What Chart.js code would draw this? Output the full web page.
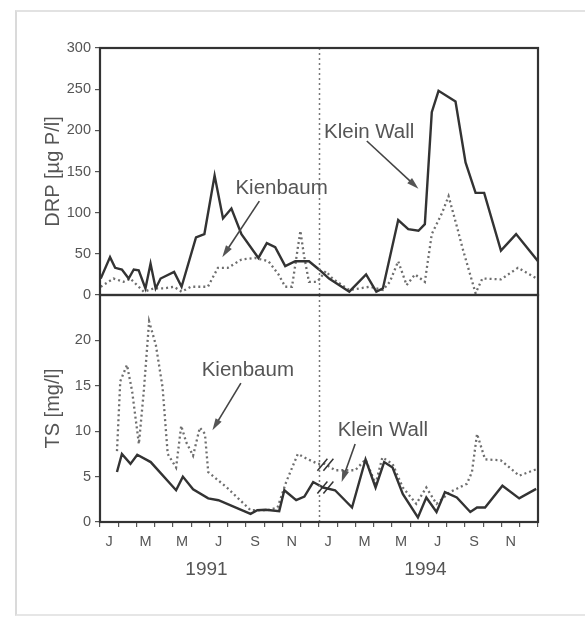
<!DOCTYPE html>
<html>
<head>
<meta charset="utf-8">
<script src="https://cdn.jsdelivr.net/npm/chart.js@4.4.0/dist/chart.umd.min.js"></script>
<style>
  body { margin: 0; background: #fff; width: 585px; height: 621px; position: relative; overflow: hidden; }
  #frame { position: absolute; left: 15px; top: 10px; width: 600px; height: 602px;
           border-left: 2px solid #dadada; border-top: 2px solid #e2e2e2; border-bottom: 2px solid #e6e6e6; }
  .box { position: absolute; left: 0; width: 585px; }
</style>
</head>
<body>
<div id="frame"></div>
<div class="box" style="top:0;height:310px"><canvas id="drp"></canvas></div>
<div class="box" style="top:280px;height:341px"><canvas id="ts"></canvas></div>
<script>
// month letters, years (x axis in months: 0 = start of Jan 1991, 12 = start of Jan 1994)
const monthLetters = ['J', 'F', 'M', 'A', 'M', 'J', 'J', 'A', 'S', 'O', 'N', 'D'];
const years = ['1991', '1994'];
const drpTicks = [0, 50, 100, 150, 200, 250, 300];
const tsTicks = [0, 5, 10, 15, 20];

// DRP [µg P/l]
const drpKleinX = [0.04, 0.55, 0.83, 1.2, 1.57, 1.85, 2.12, 2.49, 2.77, 3.05, 3.32, 4.06, 4.47, 5.26, 5.72, 6.28, 6.74, 7.2, 7.75, 8.68, 9.14, 9.6, 10.15, 10.7, 11.45, 12.0, 12.55, 13.66, 14.58, 15.14, 15.5, 16.34, 16.89, 17.45, 17.8, 18.18, 18.55, 19.48, 20.03, 20.58, 21.05, 21.97, 22.8, 24];
const drpKleinY = [20, 46, 33, 31, 20, 31, 30, 8, 38, 8, 20, 28, 10, 70, 74, 145, 93, 105, 74, 45, 63, 58, 35, 41, 41, 31, 20, 4, 25, 4, 8, 91, 80, 78, 86, 222, 248, 235, 161, 124, 124, 54, 74, 41];
const drpKienX = [0.04, 0.74, 1.29, 1.66, 2.4, 2.95, 3.5, 4.06, 4.47, 4.98, 5.91, 6.46, 7.0, 7.75, 8.49, 9.23, 9.78, 10.15, 10.52, 10.98, 11.17, 11.45, 11.9, 12.37, 12.74, 13.66, 14.77, 15.5, 15.88, 16.34, 16.8, 17.26, 17.8, 18.18, 18.73, 19.1, 19.57, 19.85, 20.58, 20.95, 21.97, 22.9, 24];
const drpKienY = [10, 20, 16, 20, 4, 8, 8, 10, 4, 10, 10, 33, 33, 43, 45, 41, 25, 10, 10, 78, 49, 16, 16, 29, 20, 6, 10, 6, 16, 41, 12, 25, 16, 74, 99, 120, 82, 58, 2, 20, 19, 33, 19];

// TS [mg/l]
const tsKleinX = [0.93, 1.2, 1.67, 2.04, 2.78, 4.17, 4.54, 5.1, 5.93, 6.49, 8.25, 8.62, 9.08, 9.82, 10.1, 10.75, 11.2, 11.68, 12.23, 12.88, 13.81, 14.55, 15.1, 15.57, 16.03, 16.59, 17.42, 17.88, 18.44, 18.9, 19.55, 20.29, 20.66, 21.1, 22.05, 22.97, 23.9];
const tsKleinY = [5.5, 7.5, 6.4, 7.4, 6.6, 3.5, 5.0, 3.6, 2.6, 2.4, 0.9, 1.3, 1.35, 1.2, 3.5, 2.4, 2.8, 4.4, 3.8, 3.5, 1.6, 6.9, 3.8, 6.6, 6.0, 3.1, 0.5, 2.7, 1.1, 3.3, 2.7, 1.1, 1.6, 1.6, 4.0, 2.6, 3.65];
const tsKienX = [0.93, 1.11, 1.48, 1.76, 2.13, 2.4, 2.69, 3.06, 3.43, 3.71, 4.17, 4.45, 4.72, 5.1, 5.47, 5.75, 5.93, 6.95, 8.25, 9.17, 9.73, 10.2, 10.84, 11.4, 11.95, 12.32, 12.88, 13.99, 14.55, 15.1, 15.47, 16.03, 16.59, 17.33, 17.88, 18.44, 19.18, 20.1, 20.38, 20.66, 21.1, 21.96, 22.97, 23.9];
const tsKienY = [7.8, 15.5, 17.3, 14.4, 8.6, 14.4, 22.1, 19.5, 14.8, 7.5, 6.0, 10.6, 8.8, 7.3, 10.4, 9.7, 5.5, 3.8, 1.3, 1.3, 1.6, 4.4, 7.5, 6.9, 6.4, 6.4, 5.7, 5.7, 6.9, 4.2, 7.1, 6.4, 3.8, 2.0, 3.8, 2.0, 3.3, 4.2, 5.5, 9.7, 6.9, 6.8, 5.1, 5.8];

const FONT = '"Liberation Sans", Arial, sans-serif';
Chart.defaults.font.family = FONT;
Chart.defaults.color = '#555';

function pts(xs, ys) {
  return xs.map((x, i) => ({ x: x, y: ys[i] }));
}

function solid(data) {
  return { data: data, borderColor: '#333', borderWidth: 2.4, pointRadius: 0, tension: 0 };
}
function dotted(data) {
  return { data: data, borderColor: '#6e6e6e', borderWidth: 2.3, borderDash: [2, 3], pointRadius: 0, tension: 0 };
}

function drawArrow(ctx, x1, y1, x2, y2) {
  const a = Math.atan2(y2 - y1, x2 - x1);
  const c = Math.cos(a), s = Math.sin(a);
  ctx.beginPath();
  ctx.moveTo(x1, y1);
  ctx.lineTo(x2 - 8 * c, y2 - 8 * s);
  ctx.stroke();
  ctx.beginPath();
  ctx.moveTo(x2, y2);
  ctx.lineTo(x2 - 12 * c + 3.5 * s, y2 - 12 * s - 3.5 * c);
  ctx.lineTo(x2 - 12 * c - 3.5 * s, y2 - 12 * s + 3.5 * c);
  ctx.closePath();
  ctx.fill();
}

// divider, frame, labels with arrows (positions in data units)
function extras(notes, more) {
  return {
    id: 'extras',
    afterDatasetsDraw(chart) {
      const { ctx, chartArea: a, scales: { x, y } } = chart;
      ctx.save();
      ctx.strokeStyle = '#777';
      ctx.lineWidth = 1.5;
      ctx.setLineDash([2, 3]);
      const xd = Math.round(x.getPixelForValue(12)) + 0.5;
      ctx.beginPath();
      ctx.moveTo(xd, a.top);
      ctx.lineTo(xd, a.bottom);
      ctx.stroke();
      ctx.setLineDash([]);

      ctx.strokeStyle = '#333';
      ctx.lineWidth = 2.2;
      ctx.strokeRect(a.left, a.top, a.right - a.left, a.bottom - a.top);

      ctx.fillStyle = '#555';
      ctx.strokeStyle = '#444';
      ctx.lineWidth = 1.6;
      ctx.font = '20.5px ' + FONT;
      ctx.textAlign = 'center';
      ctx.textBaseline = 'middle';
      notes.forEach(n => {
        ctx.fillText(n.text, x.getPixelForValue(n.at[0]), y.getPixelForValue(n.at[1]));
        drawArrow(ctx, x.getPixelForValue(n.from[0]), y.getPixelForValue(n.from[1]),
                  x.getPixelForValue(n.to[0]), y.getPixelForValue(n.to[1]));
      });
      if (more) more(chart);
      ctx.restore();
    }
  };
}

function monthAxis(showLabels, height) {
  return {
    type: 'linear', min: 0, max: 24,
    afterBuildTicks: s => {
      const t = [];
      for (let i = 0; i <= 48; i++) t.push({ value: i / 2 });
      s.ticks = t;
    },
    afterFit: s => { s.height = height; },
    ticks: {
      display: showLabels, autoSkip: false, maxRotation: 0, padding: 6,
      font: { size: 14.5 },
      callback: v => {
        if (Number.isInteger(v)) return '';
        const m = Math.floor(v) % 12;
        return m % 2 === 0 ? monthLetters[m] : '';
      }
    },
    grid: {
      display: showLabels, drawOnChartArea: false, tickLength: 5, lineWidth: 1.2,
      color: c => (c.tick && Number.isInteger(c.tick.value)) ? '#555' : 'rgba(0,0,0,0)'
    },
    border: { display: false }
  };
}

function valueAxis(max, ticks, title) {
  return {
    min: 0, max: max,
    afterFit: s => { s.width = 100; },
    afterBuildTicks: s => { s.ticks = ticks.map(v => ({ value: v })); },
    ticks: { font: { size: 14.5 }, padding: 4 },
    grid: { drawOnChartArea: false, tickLength: 5, lineWidth: 1.2, color: '#555' },
    border: { display: false },
    title: { display: true, text: title, font: { size: 20 }, color: '#555', padding: { top: 41, bottom: 0 } }
  };
}

const base = {
  responsive: true, maintainAspectRatio: false, animation: false, events: [],
  plugins: { legend: { display: false }, tooltip: { enabled: false } }
};

new Chart(document.getElementById('drp'), {
  type: 'line',
  data: { datasets: [solid(pts(drpKleinX, drpKleinY)), dotted(pts(drpKienX, drpKienY))] },
  options: Object.assign({}, base, {
    layout: { padding: { top: 48, bottom: 15, left: 0, right: 47 } },
    scales: { x: monthAxis(false, 0), y: valueAxis(300, drpTicks, 'DRP [µg P/l]') }
  }),
  plugins: [extras([
    { text: 'Klein Wall', at: [14.75, 197], from: [14.62, 187], to: [17.45, 129] },
    { text: 'Kienbaum', at: [9.95, 130], from: [8.73, 114], to: [6.7, 46] }
  ])]
});

new Chart(document.getElementById('ts'), {
  type: 'line',
  data: { datasets: [solid(pts(tsKleinX, tsKleinY)), dotted(pts(tsKienX, tsKienY))] },
  options: Object.assign({}, base, {
    layout: { padding: { top: 15, bottom: 0, left: 0, right: 47 } },
    scales: { x: monthAxis(true, 99), y: valueAxis(25, tsTicks, 'TS [mg/l]') }
  }),
  plugins: [extras([
    { text: 'Kienbaum', at: [8.1, 16.7], from: [7.72, 15.3], to: [6.16, 10.1] },
    { text: 'Klein Wall', at: [15.5, 10.1], from: [13.98, 8.6], to: [13.24, 4.4] }
  ], chart => {
    const { ctx, scales: { x, y }, chartArea: a } = chart;
    // break marks on both lines next to the divider
    ctx.strokeStyle = '#333';
    ctx.lineWidth = 1.5;
    [[12.35, 6.3], [12.35, 3.8]].forEach(p => {
      const px = x.getPixelForValue(p[0]), py = y.getPixelForValue(p[1]);
      [-3, 3].forEach(d => {
        ctx.beginPath();
        ctx.moveTo(px + d - 5, py + 6);
        ctx.lineTo(px + d + 5, py - 6);
        ctx.stroke();
      });
    });
    // year labels under each half
    ctx.fillStyle = '#555';
    ctx.font = '19px ' + FONT;
    years.forEach((t, i) => {
      ctx.fillText(t, x.getPixelForValue(6 + 12 * i) - 3, a.bottom + 48);
    });
  })]
});
</script>
</body>
</html>
